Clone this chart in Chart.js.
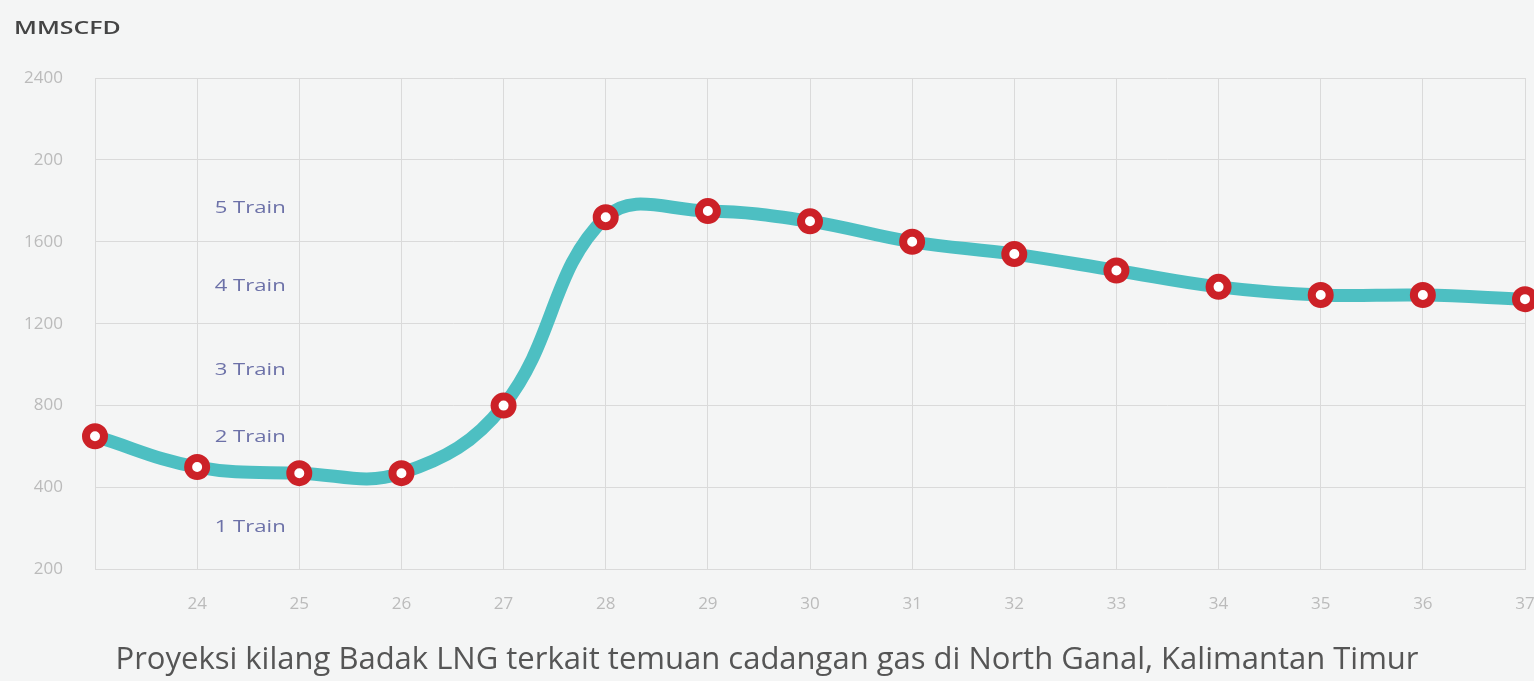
<!DOCTYPE html>
<html>
<head>
<meta charset="utf-8">
<script src="https://cdn.jsdelivr.net/npm/chart.js@4"></script>
<style>
  html, body { margin: 0; padding: 0; background: #f4f5f5; }
  #wrap { width: 1534px; height: 681px; }
</style>
</head>
<body>
<div id="wrap"><canvas id="chart"></canvas></div>
<script>
// years (20xx) on the x axis, MMSCFD on the y axis
const years = ['23', '24', '25', '26', '27', '28', '29', '30', '31', '32', '33', '34', '35', '36', '37'];
const production = [650, 500, 470, 470, 800, 1720, 1750, 1700, 1600, 1540, 1460, 1380, 1340, 1340, 1320];
// the labels printed on the y axis, as in the source (0 and 2000 are mislabelled there)
const yTickLabels = ['200', '400', '800', '1200', '1600', '200', '2400'];
// train capacity notes drawn inside the plot
const trainLabels = ['5 Train', '4 Train', '3 Train', '2 Train', '1 Train'];
const trainLevels = [1765, 1385, 975, 645, 205];
const unitLabel = 'MMSCFD';

// the source picture is stretched sideways, so these texts are widened a little
function wideText(ctx, text, x, y, sx) {
  ctx.save();
  ctx.translate(x, y);
  ctx.scale(sx, 1);
  ctx.fillText(text, 0, 0);
  ctx.restore();
}

const notes = {
  id: 'notes',
  afterDatasetsDraw(chart) {
    let ctx = chart.ctx;
    let xs = chart.scales.x, ys = chart.scales.y;
    let x = (xs.getPixelForValue(1) + xs.getPixelForValue(2)) / 2 + 2;
    ctx.save();
    ctx.textBaseline = 'middle';

    ctx.font = '17px "Open Sans"';
    ctx.fillStyle = '#6c71a8';
    ctx.textAlign = 'center';
    for(let i = 0; i < trainLabels.length; i++) {
      wideText(ctx, trainLabels[i], x, ys.getPixelForValue(trainLevels[i]), 1.3);
    }

    ctx.font = '600 18px "Open Sans"';
    ctx.fillStyle = '#444';
    ctx.textAlign = 'left';
    wideText(ctx, unitLabel, 14, 29, 1.38);
    ctx.restore();
  }
};

let ctx = document.getElementById('chart');
let chart = new Chart(ctx, {
  type: 'line',
  data: {
    labels: years,
    datasets: [{
      data: production,
      borderColor: '#4dbfc2',
      borderWidth: 13,
      tension: 0.4,
      pointRadius: 9,
      pointHoverRadius: 9,
      pointBorderWidth: 8,
      pointBorderColor: '#cc2127',
      pointBackgroundColor: '#ffffff',
      clip: false
    }]
  },
  options: {
    responsive: true,
    maintainAspectRatio: false,
    animation: false,
    layout: { autoPadding: false, padding: { left: 0, right: 0, top: 78, bottom: 0 } },
    plugins: {
      legend: { display: false },
      tooltip: { enabled: false },
      subtitle: {
        display: true,
        position: 'bottom',
        text: 'Proyeksi kilang Badak LNG terkait temuan cadangan gas di North Ganal, Kalimantan Timur',
        color: '#555',
        font: { family: '"Open Sans"', size: 31 },
        padding: { top: 2, bottom: 2 }
      }
    },
    scales: {
      x: {
        offset: false,
        afterFit: function(scale) { scale.paddingRight = 9; scale.paddingLeft = 0; },
        grid: { color: '#dadada', drawTicks: false },
        border: { color: '#dadada' },
        ticks: {
          color: '#bbb',
          font: { family: '"Open Sans"', size: 17 },
          padding: 25,
          maxRotation: 0,
          autoSkip: false,
          callback: function(v, i) { return i === 0 ? '' : years[i]; }
        }
      },
      y: {
        min: 0,
        max: 2400,
        afterFit: function(scale) { scale.width = 95; },
        grid: { color: '#dadada', drawTicks: false },
        border: { color: '#dadada' },
        ticks: {
          stepSize: 400,
          color: '#bbb',
          font: { family: '"Open Sans"', size: 17 },
          padding: 32,
          callback: function(v) { return yTickLabels[v / 400]; }
        }
      }
    }
  },
  plugins: [notes]
});
</script>
</body>
</html>
